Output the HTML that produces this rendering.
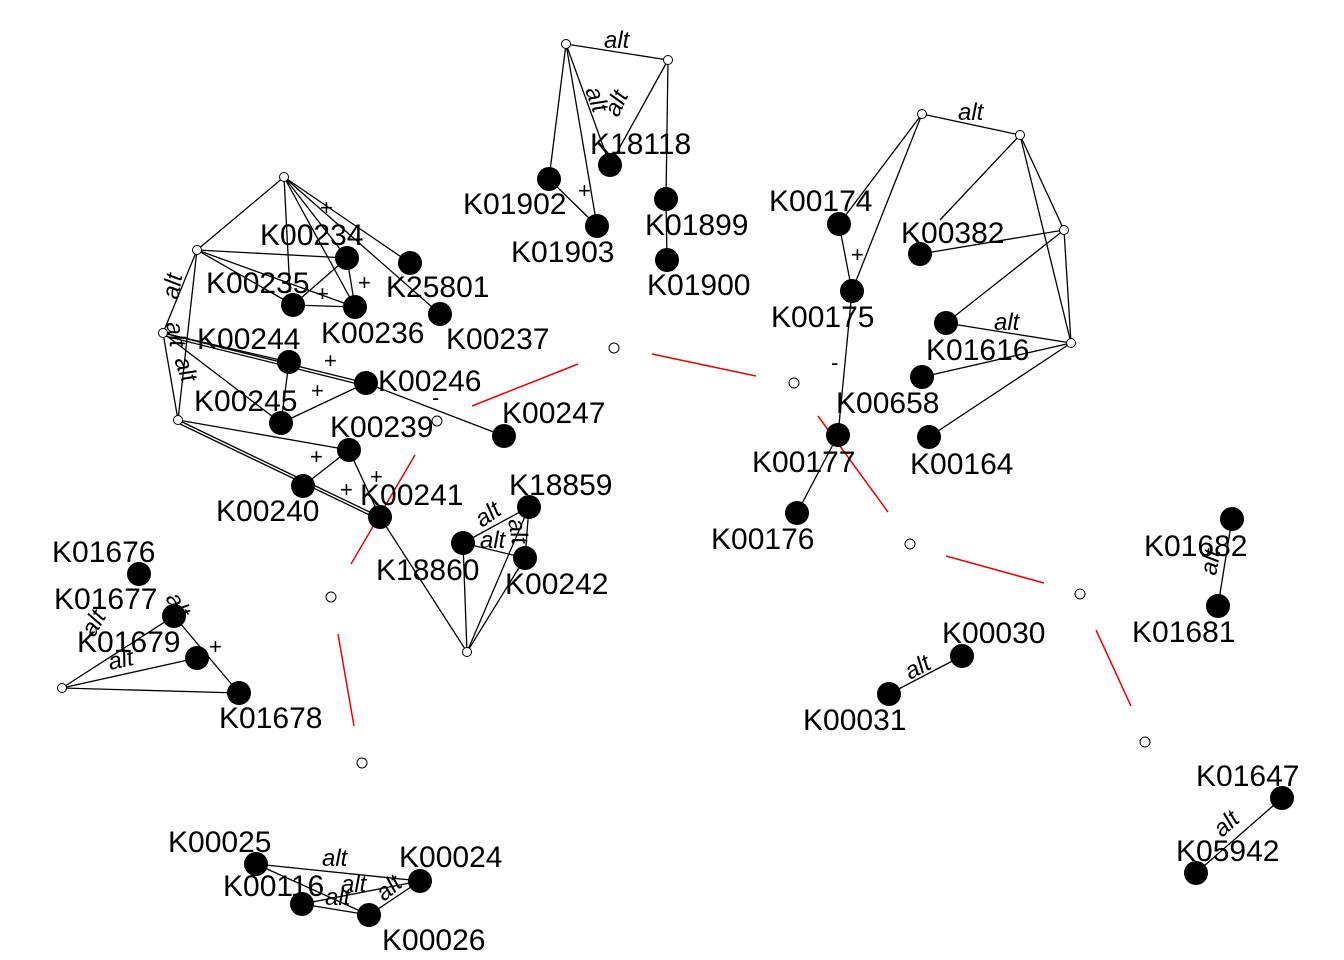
<!DOCTYPE html>
<html><head><meta charset="utf-8"><style>
body{margin:0;background:#fff}
svg{display:block}
text{font-family:"Liberation Sans",Arial,sans-serif;font-size:30px;fill:#000}
.s{font-size:24px;font-style:italic}
.m{font-size:22px}
</style></head><body>
<svg width="1344" height="960" viewBox="0 0 1344 960">
<g stroke="#e00" stroke-width="1.5">
<line x1="472" y1="406" x2="578" y2="364"/>
<line x1="652" y1="354" x2="756" y2="376"/>
<line x1="818" y1="416" x2="888" y2="512"/>
<line x1="946" y1="556" x2="1044" y2="583"/>
<line x1="1096" y1="630" x2="1131" y2="706"/>
<line x1="415" y1="455" x2="351" y2="564"/>
<line x1="338" y1="634" x2="354" y2="726"/>
</g>
<g stroke="#000" stroke-width="1.3" fill="none">
<line x1="566" y1="44" x2="668" y2="60"/>
<line x1="566" y1="44" x2="549" y2="179"/>
<line x1="566" y1="44" x2="597" y2="226"/>
<line x1="566" y1="44" x2="610" y2="165"/>
<line x1="668" y1="60" x2="610" y2="165"/>
<line x1="668" y1="60" x2="666" y2="199"/>
<line x1="666" y1="199" x2="667" y2="260"/>
<line x1="549" y1="179" x2="597" y2="226"/>
<line x1="922" y1="114" x2="1020" y2="135"/>
<line x1="922" y1="114" x2="852" y2="291"/>
<line x1="922" y1="114" x2="839" y2="224"/>
<line x1="839" y1="224" x2="852" y2="291"/>
<line x1="1020" y1="135" x2="1064" y2="230"/>
<line x1="1064" y1="230" x2="1071" y2="343"/>
<line x1="1020" y1="135" x2="1071" y2="343"/>
<line x1="1020" y1="135" x2="940" y2="220"/>
<line x1="1064" y1="230" x2="920" y2="254"/>
<line x1="1064" y1="230" x2="946" y2="323"/>
<line x1="1071" y1="343" x2="946" y2="323"/>
<line x1="1071" y1="343" x2="922" y2="377"/>
<line x1="1071" y1="343" x2="929" y2="437"/>
<line x1="852" y1="291" x2="838" y2="435"/>
<line x1="838" y1="435" x2="797" y2="513"/>
<line x1="284" y1="177" x2="197" y2="250"/>
<line x1="284" y1="177" x2="347" y2="258"/>
<line x1="284" y1="177" x2="410" y2="263"/>
<line x1="284" y1="177" x2="355" y2="307"/>
<line x1="284" y1="177" x2="290" y2="292"/>
<line x1="284" y1="177" x2="440" y2="314"/>
<line x1="197" y1="250" x2="163" y2="333"/>
<line x1="163" y1="333" x2="178" y2="420"/>
<line x1="197" y1="250" x2="178" y2="420"/>
<line x1="197" y1="250" x2="347" y2="258"/>
<line x1="197" y1="250" x2="293" y2="305"/>
<line x1="197" y1="250" x2="355" y2="307"/>
<line x1="347" y1="258" x2="293" y2="305"/>
<line x1="347" y1="258" x2="355" y2="307"/>
<line x1="293" y1="305" x2="355" y2="307"/>
<line x1="163" y1="333" x2="289" y2="362"/>
<line x1="163" y1="333" x2="366" y2="383"/>
<line x1="165" y1="336" x2="366" y2="386"/>
<line x1="163" y1="333" x2="281" y2="423"/>
<line x1="289" y1="362" x2="281" y2="423"/>
<line x1="281" y1="423" x2="366" y2="383"/>
<line x1="366" y1="383" x2="504" y2="436"/>
<line x1="178" y1="420" x2="349" y2="450"/>
<line x1="178" y1="420" x2="380" y2="517"/>
<line x1="178" y1="423" x2="380" y2="520"/>
<line x1="349" y1="450" x2="303" y2="486"/>
<line x1="349" y1="450" x2="380" y2="517"/>
<line x1="380" y1="517" x2="467" y2="652"/>
<line x1="463" y1="543" x2="467" y2="652"/>
<line x1="525" y1="558" x2="467" y2="652"/>
<line x1="529" y1="507" x2="467" y2="652"/>
<line x1="529" y1="507" x2="463" y2="543"/>
<line x1="463" y1="543" x2="525" y2="558"/>
<line x1="529" y1="507" x2="525" y2="558"/>
<line x1="62" y1="688" x2="174" y2="616"/>
<line x1="62" y1="688" x2="197" y2="658"/>
<line x1="62" y1="688" x2="239" y2="693"/>
<line x1="174" y1="616" x2="239" y2="693"/>
<line x1="256" y1="864" x2="420" y2="881"/>
<line x1="256" y1="864" x2="369" y2="915"/>
<line x1="302" y1="904" x2="420" y2="881"/>
<line x1="302" y1="904" x2="369" y2="915"/>
<line x1="369" y1="915" x2="420" y2="881"/>
<line x1="962" y1="656" x2="889" y2="694"/>
<line x1="1232" y1="519" x2="1218" y2="606"/>
<line x1="1282" y1="798" x2="1196" y2="873"/>
</g>
<g fill="#fff" stroke="#000" stroke-width="1">
<circle cx="566" cy="44" r="4.5"/><circle cx="668" cy="60" r="4.5"/><circle cx="284" cy="177" r="4.5"/>
<circle cx="197" cy="250" r="4.5"/><circle cx="163" cy="333" r="4.5"/><circle cx="178" cy="420" r="4.5"/>
<circle cx="922" cy="114" r="4.5"/><circle cx="1020" cy="135" r="4.5"/><circle cx="1064" cy="230" r="4.5"/>
<circle cx="1071" cy="343" r="4.5"/><circle cx="467" cy="652" r="4.5"/><circle cx="62" cy="688" r="4.5"/>
<circle cx="614" cy="348" r="5"/><circle cx="794" cy="383" r="5"/><circle cx="910" cy="544" r="5"/>
<circle cx="1080" cy="594" r="5"/><circle cx="1145" cy="742" r="5"/><circle cx="331" cy="597" r="5"/>
<circle cx="362" cy="763" r="5"/><circle cx="437" cy="421" r="5"/>
</g>
<g fill="#000">
<circle cx="549" cy="179" r="12"/><circle cx="610" cy="165" r="12"/><circle cx="597" cy="226" r="12"/>
<circle cx="666" cy="199" r="12"/><circle cx="667" cy="260" r="12"/><circle cx="839" cy="224" r="12"/>
<circle cx="852" cy="291" r="12"/><circle cx="920" cy="254" r="12"/><circle cx="946" cy="323" r="12"/>
<circle cx="922" cy="377" r="12"/><circle cx="929" cy="437" r="12"/><circle cx="838" cy="435" r="12"/>
<circle cx="797" cy="513" r="12"/><circle cx="347" cy="258" r="12"/><circle cx="410" cy="263" r="12"/>
<circle cx="293" cy="305" r="12"/><circle cx="355" cy="307" r="12"/><circle cx="440" cy="314" r="12"/>
<circle cx="289" cy="362" r="12"/><circle cx="366" cy="383" r="12"/><circle cx="281" cy="423" r="12"/>
<circle cx="504" cy="436" r="12"/><circle cx="349" cy="450" r="12"/><circle cx="303" cy="486" r="12"/>
<circle cx="380" cy="517" r="12"/><circle cx="529" cy="507" r="12"/><circle cx="463" cy="543" r="12"/>
<circle cx="525" cy="558" r="12"/><circle cx="139" cy="574" r="12"/><circle cx="174" cy="616" r="12"/>
<circle cx="197" cy="658" r="12"/><circle cx="239" cy="693" r="12"/><circle cx="962" cy="656" r="12"/>
<circle cx="889" cy="694" r="12"/><circle cx="1232" cy="519" r="12"/><circle cx="1218" cy="606" r="12"/>
<circle cx="1282" cy="798" r="12"/><circle cx="1196" cy="873" r="12"/><circle cx="256" cy="864" r="12"/>
<circle cx="420" cy="881" r="12"/><circle cx="302" cy="904" r="12"/><circle cx="369" cy="915" r="12"/>
</g>
<g>
<text x="590" y="154">K18118</text><text x="463" y="214">K01902</text><text x="511" y="262">K01903</text>
<text x="645" y="235">K01899</text><text x="647" y="295">K01900</text><text x="769" y="211">K00174</text>
<text x="771" y="327">K00175</text><text x="901" y="243">K00382</text><text x="926" y="360">K01616</text>
<text x="836" y="413">K00658</text><text x="910" y="474">K00164</text><text x="752" y="472">K00177</text>
<text x="711" y="549">K00176</text><text x="260" y="245">K00234</text><text x="386" y="297">K25801</text>
<text x="206" y="293">K00235</text><text x="321" y="343">K00236</text><text x="446" y="349">K00237</text>
<text x="197" y="349">K00244</text><text x="378" y="391">K00246</text><text x="194" y="411">K00245</text>
<text x="502" y="423">K00247</text><text x="330" y="437">K00239</text><text x="216" y="521">K00240</text>
<text x="360" y="505">K00241</text><text x="509" y="495">K18859</text><text x="376" y="580">K18860</text>
<text x="505" y="594">K00242</text><text x="52" y="562">K01676</text><text x="54" y="609">K01677</text>
<text x="77" y="652">K01679</text><text x="219" y="728">K01678</text><text x="942" y="643">K00030</text>
<text x="803" y="730">K00031</text><text x="1144" y="556">K01682</text><text x="1132" y="642">K01681</text>
<text x="1196" y="786">K01647</text><text x="1176" y="861">K05942</text><text x="168" y="852">K00025</text>
<text x="399" y="867">K00024</text><text x="223" y="896">K00116</text><text x="382" y="950">K00026</text>
</g>
<g class="s">
<text class="s" x="604" y="48">alt</text>
<text class="s" x="958" y="120">alt</text>
<text class="s" x="994" y="330">alt</text>
<text class="s" x="0" y="0" transform="translate(178,300) rotate(-80)">alt</text>
<text class="s" x="0" y="0" transform="translate(166,323) rotate(80)">alt</text>
<text class="s" x="0" y="0" transform="translate(174,360) rotate(70)">alt</text>
<text class="s" x="0" y="0" transform="translate(585,90) rotate(70)">alt</text>
<text class="s" x="0" y="0" transform="translate(618,118) rotate(-65)">alt</text>
<text class="s" x="0" y="0" transform="translate(482,528) rotate(-35)">alt</text>
<text class="s" x="480" y="548">alt</text>
<text class="s" x="0" y="0" transform="translate(508,520) rotate(80)">alt</text>
<text class="s" x="0" y="0" transform="translate(94,638) rotate(-60)">alt</text>
<text class="s" x="110" y="670" transform="rotate(-12 110 670)">alt</text>
<text class="s" x="0" y="0" transform="translate(165,598) rotate(60)">alt</text>
<text class="s" x="322" y="866">alt</text>
<text class="s" x="341" y="892">alt</text>
<text class="s" x="325" y="905">alt</text>
<text class="s" x="0" y="0" transform="translate(384,902) rotate(-40)">alt</text>
<text class="s" x="0" y="0" transform="translate(910,680) rotate(-28)">alt</text>
<text class="s" x="0" y="0" transform="translate(1216,576) rotate(-80)">alt</text>
<text class="s" x="0" y="0" transform="translate(1222,838) rotate(-42)">alt</text>
</g>
<g class="m">
<text class="m" x="320" y="215">+</text><text class="m" x="358" y="290">+</text><text class="m" x="316" y="301">+</text>
<text class="m" x="324" y="368">+</text><text class="m" x="311" y="398">+</text><text class="m" x="310" y="464">+</text>
<text class="m" x="370" y="484">+</text><text class="m" x="340" y="497">+</text><text class="m" x="578" y="198">+</text>
<text class="m" x="851" y="262">+</text><text class="m" x="432" y="405">-</text><text class="m" x="831" y="370">-</text>
<text class="m" x="209" y="654">+</text>
</g>
</svg>
</body></html>
